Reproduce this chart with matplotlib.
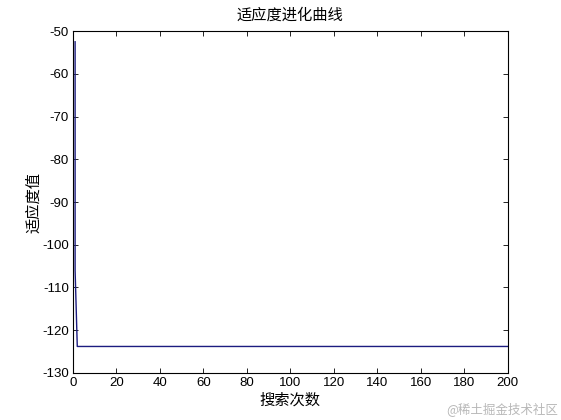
import matplotlib
matplotlib.use('Agg')
import matplotlib.pyplot as plt

# search iteration vs best fitness (only the points where the value changes)
gens = [1, 1, 2, 200]
fitness = [-52.5, -106.0, -123.8, -123.8]

xticks = [0, 20, 40, 60, 80, 100, 120, 140, 160, 180, 200]
yticks = [-130, -120, -110, -100, -90, -80, -70, -60, -50]

cjk = ['Noto Sans CJK SC', 'DejaVu Sans']
plt.rcParams['axes.unicode_minus'] = False

fig = plt.figure(figsize=(5.61, 4.2), dpi=100)
ax = fig.add_axes([0.130, 0.112, 0.775, 0.814])

ax.plot(gens, fitness, color='#1c1c80', linewidth=1.0)

ax.set_xlim(0, 200)
ax.set_ylim(-130, -50)
ax.set_xticks(xticks)
ax.set_yticks(yticks)
ax.tick_params(direction='in', length=3.5, width=0.6, top=True, right=True,
               labelsize=9.5, pad=3)
for lab in ax.get_xticklabels() + ax.get_yticklabels():
    lab.set_fontfamily('Liberation Sans')
for s in ax.spines.values():
    s.set_linewidth(0.8)

ax.set_title('适应度进化曲线', family=cjk, fontsize=11, pad=8)
ax.set_xlabel('搜索次数', family=cjk, fontsize=11, labelpad=2)
ax.set_ylabel('适应度值', family=cjk, fontsize=11, labelpad=0)

fig.text(0.995, 0.01, '@稀土掘金技术社区', family=cjk, fontsize=9,
         color='#b8b8b8', ha='right', va='bottom')

fig.savefig('out.png', dpi=100)
